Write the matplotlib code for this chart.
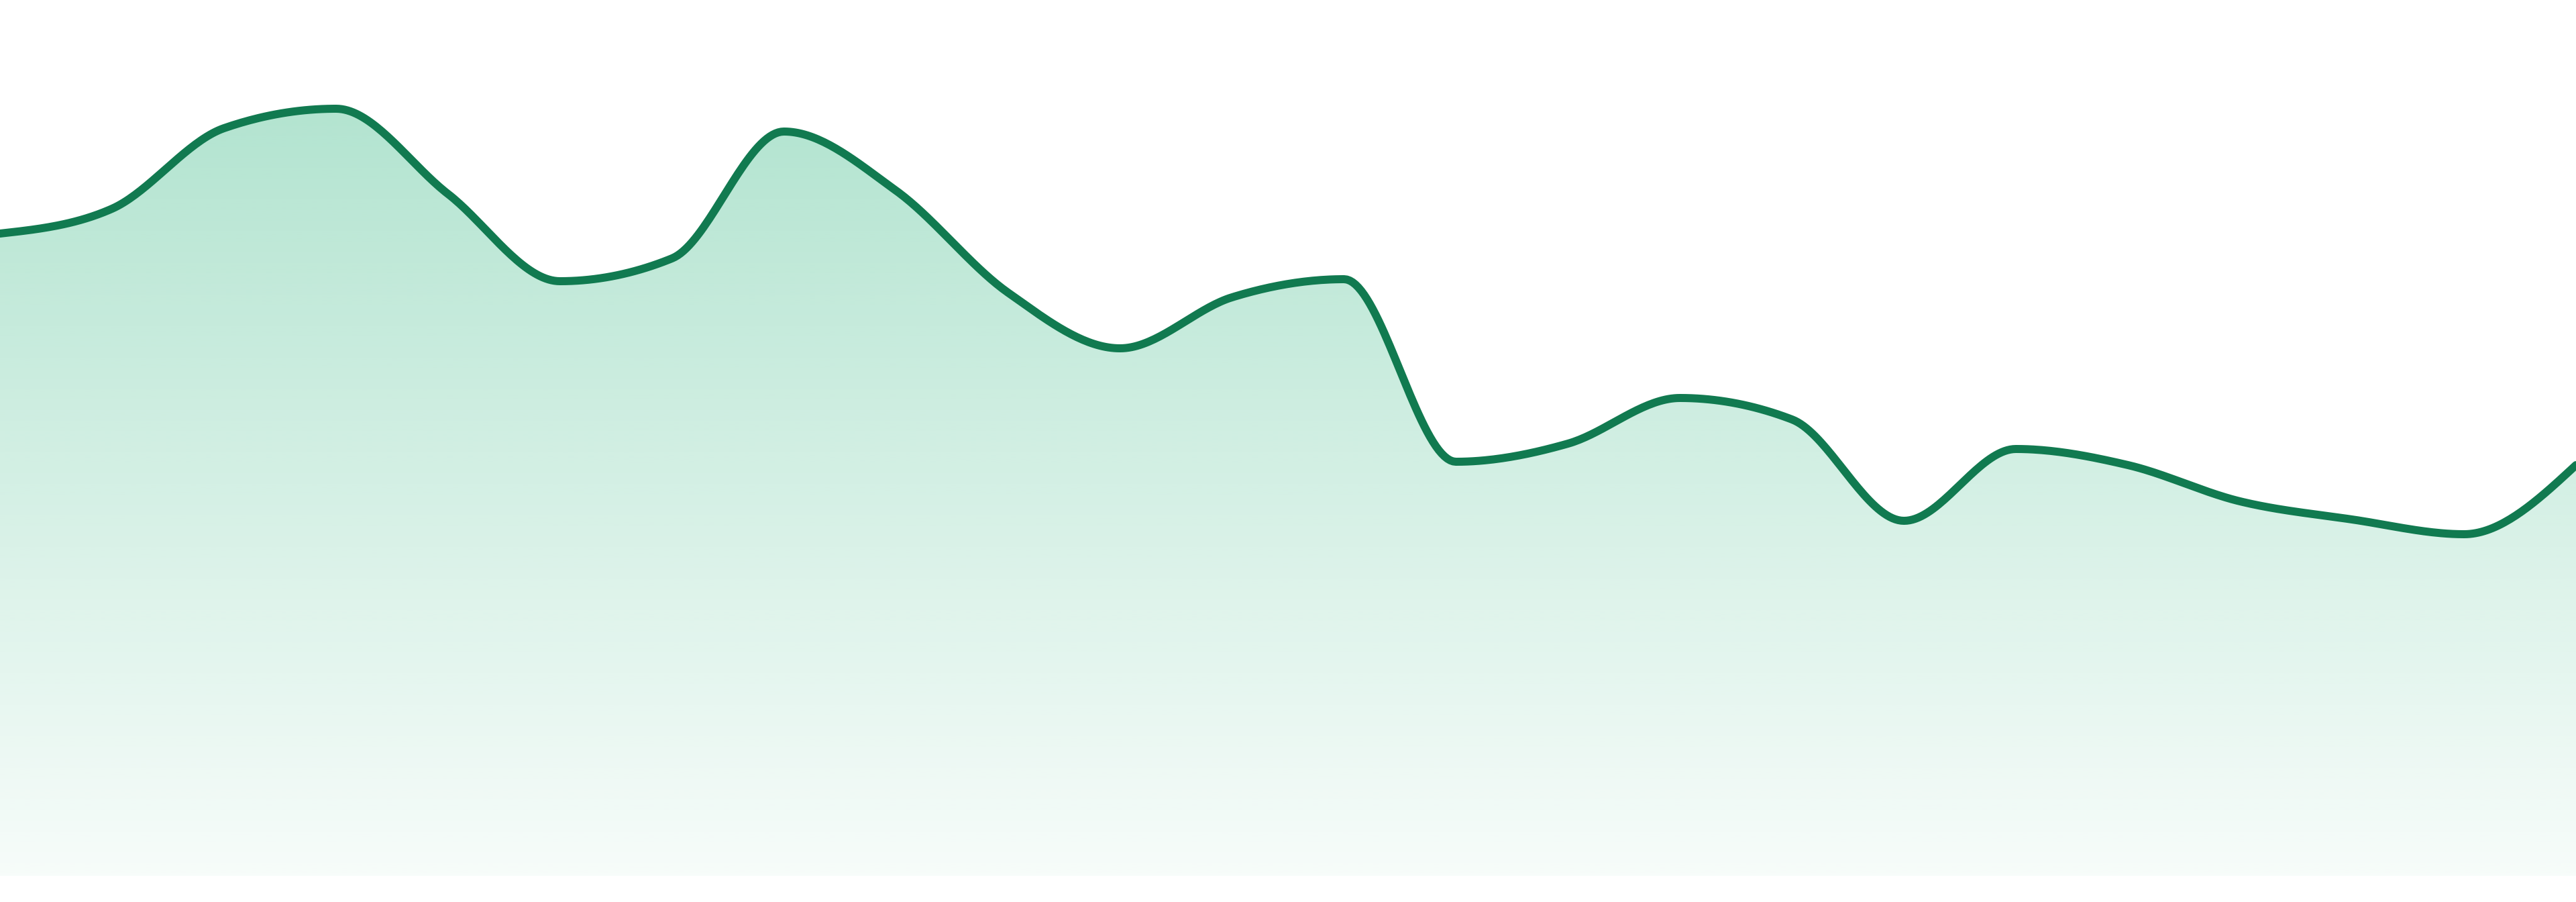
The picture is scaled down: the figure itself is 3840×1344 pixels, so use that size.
import numpy as np
import matplotlib
matplotlib.use("Agg")
import matplotlib.pyplot as plt
from matplotlib.patches import Polygon

# values (baseline = 0, 1 unit ~ 10 px)
points = list(range(24))
values = [95.7, 99.4, 111.4, 114.3, 101.6, 88.6, 92.0, 110.9, 102.1, 86.9,
          78.6, 86.2, 88.9, 61.7, 64.4, 71.2, 68.0, 52.9, 63.6, 61.2,
          55.8, 53.1, 50.9, 61.2]

line_color = "#117a50"
fill_rgb = (16 / 255, 170 / 255, 108 / 255)


def monotone_x(x, y, n=40):
    # same shape as d3.curveMonotoneX
    x = np.asarray(x, float)
    y = np.asarray(y, float)
    h = np.diff(x)
    s = np.diff(y) / h
    t = np.zeros_like(y)
    for i in range(1, len(y) - 1):
        p = (s[i - 1] * h[i] + s[i] * h[i - 1]) / (h[i - 1] + h[i])
        t[i] = (np.sign(s[i - 1]) + np.sign(s[i])) * min(abs(s[i - 1]), abs(s[i]), 0.5 * abs(p))
    t[0] = (3 * s[0] - t[1]) / 2
    t[-1] = (3 * s[-1] - t[-2]) / 2
    xs, ys = [], []
    u = np.linspace(0, 1, n)
    for i in range(len(x) - 1):
        dx = h[i] / 3
        p0 = (x[i], y[i])
        p1 = (x[i] + dx, y[i] + dx * t[i])
        p2 = (x[i + 1] - dx, y[i + 1] - dx * t[i + 1])
        p3 = (x[i + 1], y[i + 1])
        bx = (1 - u) ** 3 * p0[0] + 3 * (1 - u) ** 2 * u * p1[0] + 3 * (1 - u) * u ** 2 * p2[0] + u ** 3 * p3[0]
        by = (1 - u) ** 3 * p0[1] + 3 * (1 - u) ** 2 * u * p1[1] + 3 * (1 - u) * u ** 2 * p2[1] + u ** 3 * p3[1]
        xs.append(bx[:-1])
        ys.append(by[:-1])
    xs.append([x[-1]])
    ys.append([y[-1]])
    return np.concatenate(xs), np.concatenate(ys)


dpi = 100
fig = plt.figure(figsize=(38.4, 13.44), dpi=dpi)
ax = fig.add_axes([0, 0, 1, 1])
ax.set_xlim(0, 23)
ax.set_ylim(-3.9, 130.5)
ax.axis("off")

cx, cy = monotone_x(points, values)

# gradient area under the curve
top, bottom = 130.5, 0
grad = np.zeros((256, 2, 4))
alpha = np.linspace(0.36, 0.035, 256)
grad[:, :, 0] = fill_rgb[0]
grad[:, :, 1] = fill_rgb[1]
grad[:, :, 2] = fill_rgb[2]
grad[:, :, 3] = alpha[:, None]
img = ax.imshow(grad, extent=[0, 23, bottom, top], aspect="auto", origin="upper",
                interpolation="bilinear", zorder=1)
poly = Polygon(np.column_stack([np.r_[cx, cx[-1], cx[0]], np.r_[cy, bottom, bottom]]),
               closed=True, facecolor="none", edgecolor="none")
ax.add_patch(poly)
img.set_clip_path(poly)

ax.plot(cx, cy, color=line_color, lw=12 * 72 / dpi, solid_capstyle="round", zorder=2)

fig.savefig("out.png", dpi=dpi, facecolor="white")
